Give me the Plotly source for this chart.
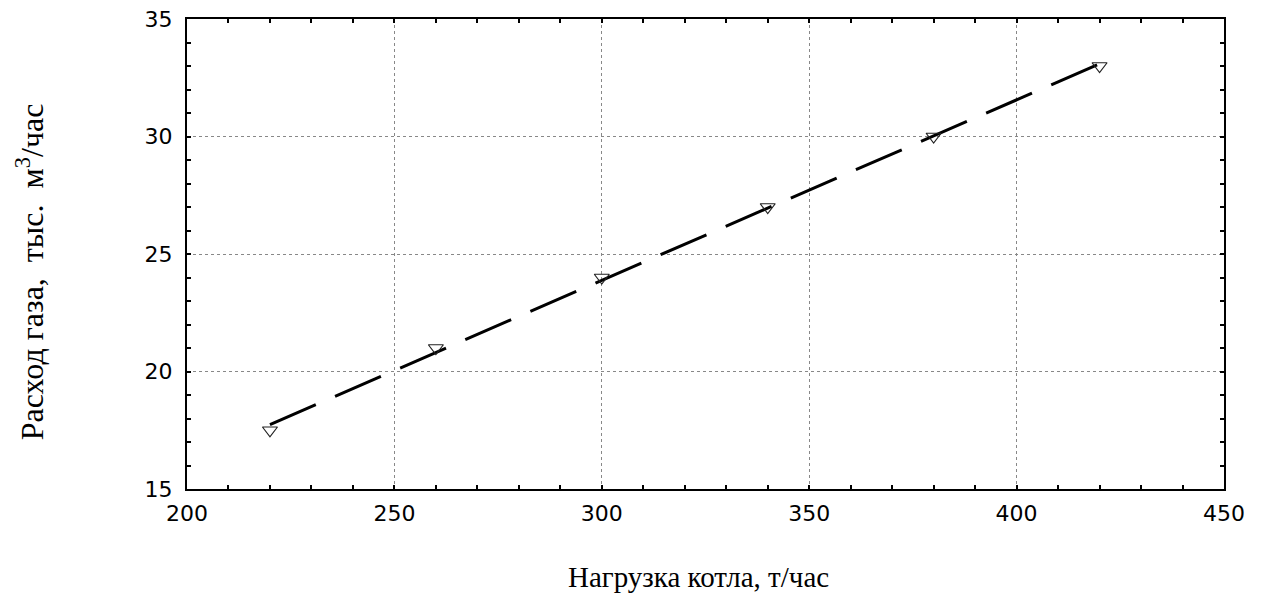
import numpy as np
import plotly.graph_objects as go

load = [220, 260, 300, 340, 380, 420]
gas = [17.5, 21, 24, 27, 30, 33]

x_title = "Нагрузка котла, т/час"
y_title = "Расход газа,  тыс.  м<sup>3</sup>/час"

# linear regression line through the data
k, b = np.polyfit(load, gas, 1)
fit_x = [load[0], load[-1]]
fit_y = [k * v + b for v in fit_x]

fig = go.Figure()
fig.add_trace(go.Scatter(x=fit_x, y=fit_y, mode="lines",
                         line=dict(color="black", width=3, dash="50px,21px"),
                         showlegend=False, hoverinfo="skip"))
fig.add_trace(go.Scatter(x=load, y=gas, mode="markers",
                         marker=dict(symbol="triangle-down-open", size=13,
                                     color="#222", line=dict(width=1.2, color="#222")),
                         showlegend=False))

axis_common = dict(showline=True, linecolor="black", linewidth=2, mirror="allticks",
                   ticks="inside", ticklen=4, tickcolor="black", tickwidth=1.5,
                   showgrid=True, gridcolor="#888", griddash="dot", gridwidth=1,
                   zeroline=False, automargin=False, ticklabeloverflow="allow",
                   tickfont=dict(family="DejaVu Sans", size=22, color="black"))

fig.update_xaxes(range=[200, 450], tickvals=[200, 250, 300, 350, 400, 450],
                 minor=dict(ticks="inside", ticklen=4, tickcolor="black", tickwidth=1.5,
                            dtick=10, showgrid=False),
                 ticklabelstandoff=4, **axis_common)
fig.update_yaxes(range=[15, 35], tickvals=[15, 20, 25, 30, 35],
                 minor=dict(ticks="inside", ticklen=4, tickcolor="black", tickwidth=1.5,
                            dtick=1, showgrid=False),
                 ticklabelstandoff=8, **axis_common)

fig.add_annotation(text=x_title, xref="paper", yref="paper", x=0.493, y=-0.188,
                   yanchor="middle", xanchor="center", showarrow=False,
                   font=dict(family="Liberation Serif", size=29, color="black"))
fig.add_annotation(text=y_title, xref="paper", yref="paper", x=-0.152, y=0.462,
                   xanchor="center", yanchor="middle", showarrow=False, textangle=-90,
                   font=dict(family="Liberation Serif", size=32, color="black"))

# page body has an 8px margin: the figure is shrunk so the plot area lands in place
fig.update_layout(width=1258, height=587,
                  margin=dict(l=179, r=42, t=11, b=106),
                  paper_bgcolor="white", plot_bgcolor="white")

fig.write_html("out.html")
